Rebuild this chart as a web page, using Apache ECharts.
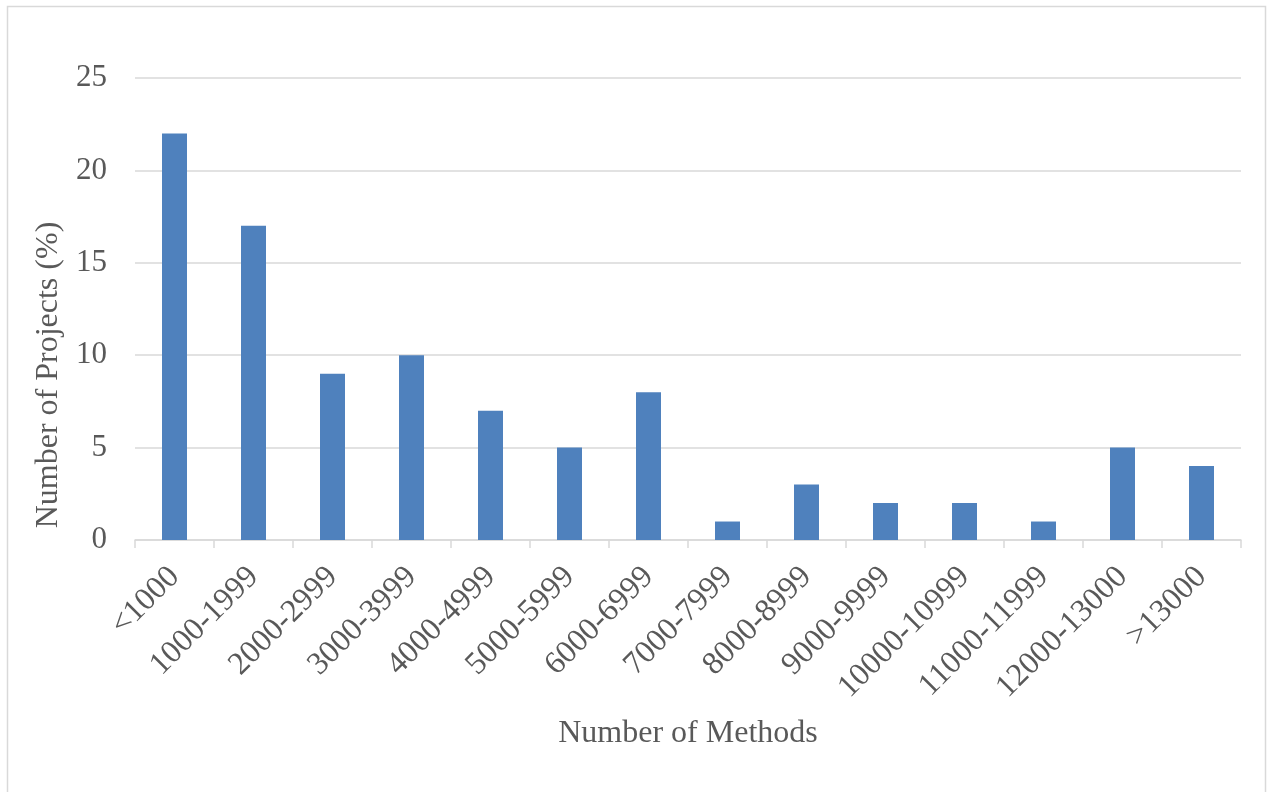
<!DOCTYPE html>
<html>
<head>
<meta charset="utf-8">
<script src="https://cdn.jsdelivr.net/npm/echarts@6/dist/echarts.min.js"></script>
<style>
  html, body { margin: 0; padding: 0; background: #fff; }
  #chart { width: 1268px; height: 792px; }
</style>
</head>
<body>
<div id="chart"></div>
<script>
// Distribution of projects by method count
const categories = ['<1000', '1000-1999', '2000-2999', '3000-3999', '4000-4999', '5000-5999',
  '6000-6999', '7000-7999', '8000-8999', '9000-9999', '10000-10999', '11000-11999',
  '12000-13000', '>13000'];
const projectShare = [22, 17, 9, 10, 7, 5, 8, 1, 3, 2, 2, 1, 5, 4];
const yTicks = { min: 0, max: 25, interval: 5 };

const font = '"Liberation Serif", "Times New Roman", serif';
const textColor = '#595959';
const lineColor = '#d9d9d9';

const chart = echarts.init(document.getElementById('chart'), null, { renderer: 'canvas' });
chart.setOption({
  backgroundColor: '#fff',
  animation: false,
  graphic: [{
    type: 'rect',
    shape: { x: 7.5, y: 6.5, width: 1258, height: 800 },
    style: { fill: 'none', stroke: lineColor, lineWidth: 1.5 },
    silent: true
  }],
  grid: { left: 135, right: 27, top: 78, bottom: 252 },
  xAxis: {
    type: 'category',
    data: categories,
    name: 'Number of Methods',
    nameLocation: 'middle',
    nameGap: 178,
    nameTextStyle: { fontFamily: font, fontSize: 32, color: textColor, verticalAlign: 'top' },
    axisLine: { lineStyle: { color: lineColor, width: 1.5 } },
    axisTick: { show: true, length: 8, lineStyle: { color: lineColor, width: 1.5 } },
    axisLabel: { rotate: 45, interval: 0, margin: 32, fontFamily: font, fontSize: 32, color: textColor }
  },
  yAxis: {
    type: 'value',
    min: yTicks.min,
    max: yTicks.max,
    interval: yTicks.interval,
    name: 'Number of Projects (%)',
    nameLocation: 'middle',
    nameGap: 70,
    // extra right padding shifts the rotated title down along the axis
    nameTextStyle: { fontFamily: font, fontSize: 32, color: textColor, padding: [0, 132, 0, 0] },
    axisLine: { show: false },
    axisTick: { show: false },
    axisLabel: { margin: 28, fontFamily: font, fontSize: 31, color: textColor },
    splitLine: { lineStyle: { color: lineColor, width: 1.5 } }
  },
  series: [{
    type: 'bar',
    data: projectShare,
    barWidth: 25,
    itemStyle: { color: '#4F81BD' }
  }]
});
</script>
</body>
</html>
